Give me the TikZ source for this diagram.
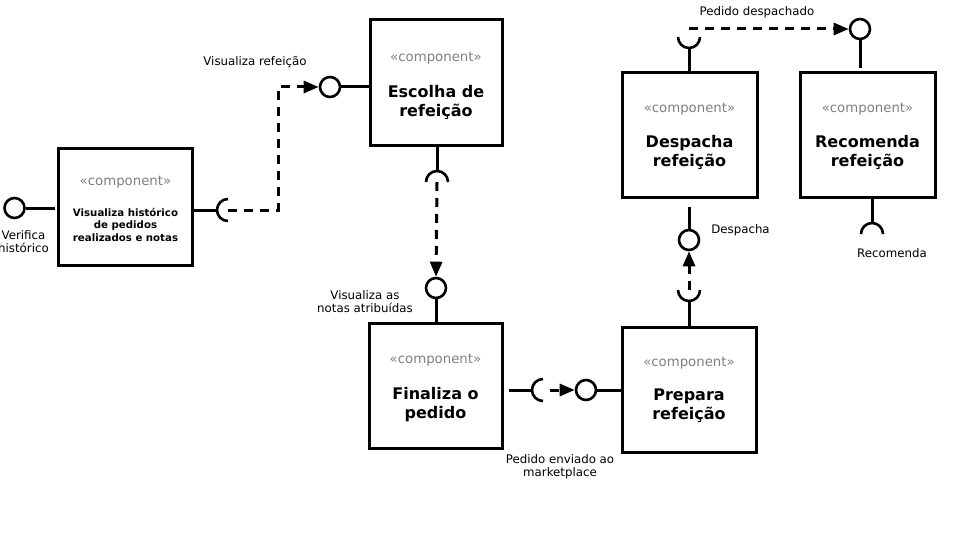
\documentclass[tikz,border=0pt]{standalone}
\usepackage{fontspec}
\setmainfont{DejaVu Sans}
\usetikzlibrary{arrows.meta}
\definecolor{stereo}{HTML}{7F7F7F}
\tikzset{
  comp/.style={draw,line width=3pt,minimum width=134pt,minimum height=125pt,inner sep=0pt},
  stereotype/.style={text=stereo,font=\fontsize{13.3}{16}\selectfont},
  comptitle/.style={align=center,font=\bfseries\fontsize{16}{19}\selectfont},
  ball/.style={draw,circle,line width=2.6pt,minimum size=20pt,inner sep=0pt},
  wire/.style={line width=3pt},
  socket/.style={line width=2.6pt},
  dep/.style={line width=3pt,dash pattern=on 9pt off 7pt,-{Triangle[length=15pt,width=12pt]}},
  lbl/.style={align=center,font=\fontsize{11.8}{13}\selectfont},
}
\begin{document}
\begin{tikzpicture}[x=1pt,y=1pt,yscale=-1]
  \useasboundingbox (0,0) rectangle (960,540);

  % visualiza historico
  %box
  \node[comp,minimum height=117pt] (historico) at (125.5,207) {};
  \node[stereotype] (historicoS) at (125.5,182) {«component»};
  \node[comptitle,font=\bfseries\fontsize{10.2}{12.5}\selectfont] (historicoT) at (125.5,224.5) {Visualiza histórico\\de pedidos\\realizados e notas};
  %interfaces
  \node[ball] (verifica) at (14.5,208) {};
  \draw[wire] (verifica.east) -- ++(29,0);
  \coordinate (historicoSock) at (228,210);
  \draw[wire] (historico.east |- historicoSock) -- ++(24,0);
  \draw[socket] (228,221) arc[start angle=90,end angle=270,radius=11pt];
  %labels
  \node[lbl] (verificaL) at (23.5,241.5) {Verifica\\histórico};

  % escolha de refeicao
  %box
  \node[comp,minimum width=132pt,minimum height=126pt] (escolha) at (436,83) {};
  \node[stereotype] (escolhaS) at (436,58) {«component»};
  \node[comptitle] (escolhaT) at (436,102) {Escolha de\\refeição};
  %interfaces
  \node[ball] (visRef) at (330,87) {};
  \draw[wire] (visRef.east) -- (visRef.east -| escolha.west);
  \coordinate (escolhaSock) at (437,182);
  \draw[wire] (escolha.south -| escolhaSock) -- ++(0,23);
  \draw[socket] (426,182) arc[start angle=180,end angle=360,radius=11pt];
  %labels
  \node[lbl] (visRefL) at (255,62) {Visualiza refeição};

  % finaliza o pedido
  %box
  \node[comp,minimum width=133pt] (finaliza) at (435.5,385.5) {};
  \node[stereotype] (finalizaS) at (435.5,360) {«component»};
  \node[comptitle] (finalizaT) at (435.5,405) {Finaliza o\\pedido};
  %interfaces
  \node[ball] (visNotas) at (436,288) {};
  \draw[wire] (visNotas.south) -- (visNotas.south |- finaliza.north);
  \coordinate (finalizaSock) at (543,390);
  \draw[wire] (finaliza.east |- finalizaSock) ++(5,0) -- ++(24,0);
  \draw[socket] (543,401) arc[start angle=90,end angle=270,radius=11pt];
  %labels
  \node[lbl] (visNotasL) at (365,301.5) {Visualiza as\\notas atribuídas};

  % prepara refeicao
  %box
  \node[comp] (prepara) at (689,389.5) {};
  \node[stereotype] (preparaS) at (689,363) {«component»};
  \node[comptitle] (preparaT) at (689,406) {Prepara\\refeição};
  %interfaces
  \node[ball] (enviado) at (586,390) {};
  \draw[wire] (enviado.east) -- (enviado.east -| prepara.west);
  \coordinate (preparaSock) at (689,290);
  \draw[wire] (prepara.north) -- ++(0,-25);
  \draw[socket] (700,290) arc[start angle=0,end angle=180,radius=11pt];
  %labels
  \node[lbl] (enviadoL) at (560,466.5) {Pedido enviado ao\\marketplace};

  % despacha refeicao
  %box
  \node[comp,minimum width=135pt,minimum height=124pt] (despacha) at (689.5,135) {};
  \node[stereotype] (despachaS) at (689.5,109) {«component»};
  \node[comptitle] (despachaT) at (689.5,152.5) {Despacha\\refeição};
  %interfaces
  \node[ball] (despachaI) at (689,240) {};
  \draw[wire] (despachaI.north) -- ++(0,-22);
  \coordinate (despachaSock) at (689,37);
  \draw[wire] (despacha.north -| despachaSock) -- ++(0,-24);
  \draw[socket] (700,37) arc[start angle=0,end angle=180,radius=11pt];
  %labels
  \node[lbl] (despachaL) at (740.5,230) {Despacha};

  % recomenda refeicao
  %box
  \node[comp,minimum width=135pt,minimum height=124pt] (recomenda) at (867.5,135) {};
  \node[stereotype] (recomendaS) at (867.5,109) {«component»};
  \node[comptitle] (recomendaT) at (867.5,152.5) {Recomenda\\refeição};
  %interfaces
  \node[ball] (despachado) at (860,29) {};
  \draw[wire] (despachado.south) -- ++(0,28);
  \coordinate (recomendaSock) at (872,234);
  \draw[wire] (recomenda.south -| recomendaSock) -- ++(0,25);
  \draw[socket] (861,234) arc[start angle=180,end angle=360,radius=11pt];
  %labels
  \node[lbl] (despachadoL) at (757,12) {Pedido despachado};
  \node[lbl] (recomendaL) at (892,253) {Recomenda};

  % dependencies
  \draw[dep] (historicoSock) -- (278,210) -- (278,87) -- (visRef.west);
  \draw[dep] (escolhaSock) -- (visNotas.north);
  \draw[dep] (finalizaSock) ++(7,0) -- (enviado.west);
  \draw[dep] (preparaSock) -- (despachaI.south);
  \draw[dep] (despachaSock |- despachado) -- (despachado.west);
\end{tikzpicture}
\end{document}
